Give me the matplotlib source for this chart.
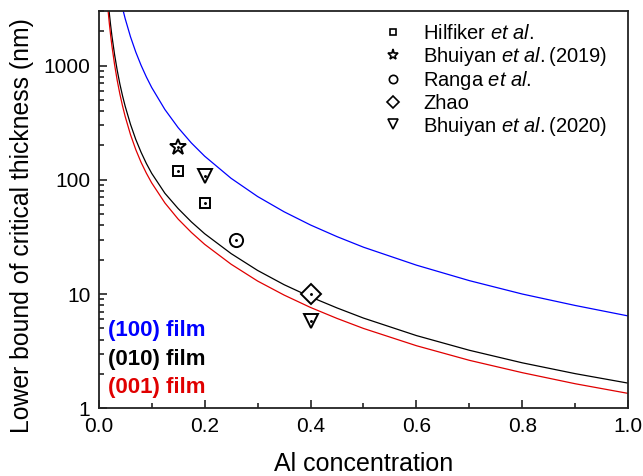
import numpy as np
import matplotlib
matplotlib.use("Agg")
import matplotlib.pyplot as plt
from matplotlib.ticker import MultipleLocator, LogLocator, NullFormatter

plt.rcParams['font.family'] = ['Liberation Sans', 'DejaVu Sans']
plt.rcParams['mathtext.fontset'] = 'custom'
plt.rcParams['mathtext.rm'] = 'Liberation Sans'
plt.rcParams['mathtext.it'] = 'Liberation Sans:italic'

# Al concentration grid for the model curves
al_x = [0.0175, 0.02, 0.0225, 0.025, 0.03, 0.035, 0.04, 0.045, 0.05, 0.06,
        0.07, 0.08, 0.09, 0.1, 0.125, 0.15, 0.175, 0.2, 0.25, 0.3,
        0.35, 0.4, 0.45, 0.5, 0.6, 0.7, 0.8, 0.9, 1.0]

# critical thickness (nm)
film_100 = [20996, 16075, 12701, 10288, 7144, 5249, 4019, 3175, 2572, 1786,
            1312, 1005, 794, 643, 412, 286, 210, 161, 103, 71.4,
            52.5, 40.2, 31.8, 25.7, 17.9, 13.1, 10.0, 7.94, 6.43]
film_010 = [3788, 2875, 2252, 1808, 1244, 906, 688, 543, 440, 306,
            225.5, 174.2, 138.9, 114, 76.2, 56.0, 42.8, 33.75, 22.6, 16.1,
            12.08, 9.44, 7.56, 6.16, 4.33, 3.22, 2.5, 2.01, 1.66]
film_001 = [3102, 2350, 1837, 1480, 1017, 739, 562.5, 443, 358, 248.6,
            183.7, 142.2, 114.2, 94, 62.7, 45.3, 34.6, 27.25, 18.24, 13.0,
            9.8, 7.63, 6.12, 5.0, 3.53, 2.63, 2.05, 1.64, 1.35]

# experimental points
hilfiker_x = [0.15, 0.2]
hilfiker_y = [120, 63]
bhuiyan19_x = [0.15]
bhuiyan19_y = [192]
ranga_x = [0.26]
ranga_y = [30]
zhao_x = [0.4]
zhao_y = [10]
bhuiyan20_x = [0.2, 0.4]
bhuiyan20_y = [108, 5.8]

fig = plt.figure(figsize=(6.43, 4.76), dpi=100)
ax = fig.add_axes([0.1535, 0.1422, 0.8236, 0.8347])

ax.plot(al_x, film_100, color='#0000ff', lw=0.9)
ax.plot(al_x, film_010, color='black', lw=0.9)
ax.plot(al_x, film_001, color='#e00000', lw=0.9)

mk = dict(ls='none', mfc='white', mec='black', mew=1.4, color='black')
# (x, y, marker, size in plot, size in legend, label)
sets = [
    (hilfiker_x, hilfiker_y, 's', 7.5, 5, r'Hilfiker $\it{et\ al.}$'),
    (bhuiyan19_x, bhuiyan19_y, '*', 12, 8, r'Bhuiyan $\it{et\ al.}$(2019)'),
    (ranga_x, ranga_y, 'o', 9.5, 6, r'Ranga $\it{et\ al.}$'),
    (zhao_x, zhao_y, 'D', 10, 6, 'Zhao'),
    (bhuiyan20_x, bhuiyan20_y, 'v', 9.5, 7, r'Bhuiyan $\it{et\ al.}$(2020)'),
]
handles = []
for xs, ys, m, ms, _, lab in sets:
    h, = ax.plot(xs, ys, marker=m, ms=ms, label=lab, zorder=3, **mk)
    ax.plot(xs, ys, ls='none', marker='.', ms=2.2, color='black', zorder=4)
    handles.append(h)

ax.set_yscale('log')
ax.set_xlim(0, 1.0)
ax.set_ylim(1, 3000)

ax.set_xticks([0, 0.2, 0.4, 0.6, 0.8, 1.0])
ax.set_xticklabels(['0.0', '0.2', '0.4', '0.6', '0.8', '1.0'])
ax.xaxis.set_minor_locator(MultipleLocator(0.1))
ax.set_yticks([1, 10, 100, 1000])
ax.set_yticklabels(['1', '10', '100', '1000'])
ax.yaxis.set_minor_locator(LogLocator(base=10, subs=np.arange(2, 10)))
ax.yaxis.set_minor_formatter(NullFormatter())

ax.tick_params(which='both', direction='in', top=False, right=False,
               width=1.2, colors='#222222', labelcolor='black')
ax.tick_params(which='major', length=6, labelsize=15, pad=6)
ax.tick_params(which='minor', length=3.5)
for s in ax.spines.values():
    s.set_linewidth(1.3)
    s.set_color('#222222')

ax.set_xlabel('Al concentration', fontsize=18, labelpad=12)
ax.set_ylabel('Lower bound of critical thickness (nm)', fontsize=17.8)
ax.yaxis.set_label_coords(-0.122, 0.46)

leg = ax.legend(handles=handles, loc='upper left', bbox_to_anchor=(0.5076, 1.0),
                frameon=False, fontsize=14.5, handlelength=1.2,
                handletextpad=0.9, labelspacing=0.08, borderaxespad=0.25)
for lh, st in zip(leg.legend_handles, sets):
    lh.set_markersize(st[4])
    lh.set_markeredgewidth(1.2)

ax.text(0.0176, 0.182, '(100) film', transform=ax.transAxes, color='#0000ff',
        fontsize=16, fontweight='bold', va='baseline')
ax.text(0.0176, 0.109, '(010) film', transform=ax.transAxes, color='black',
        fontsize=16, fontweight='bold', va='baseline')
ax.text(0.0176, 0.0385, '(001) film', transform=ax.transAxes, color='#e00000',
        fontsize=16, fontweight='bold', va='baseline')

fig.savefig('out.png', dpi=100)
